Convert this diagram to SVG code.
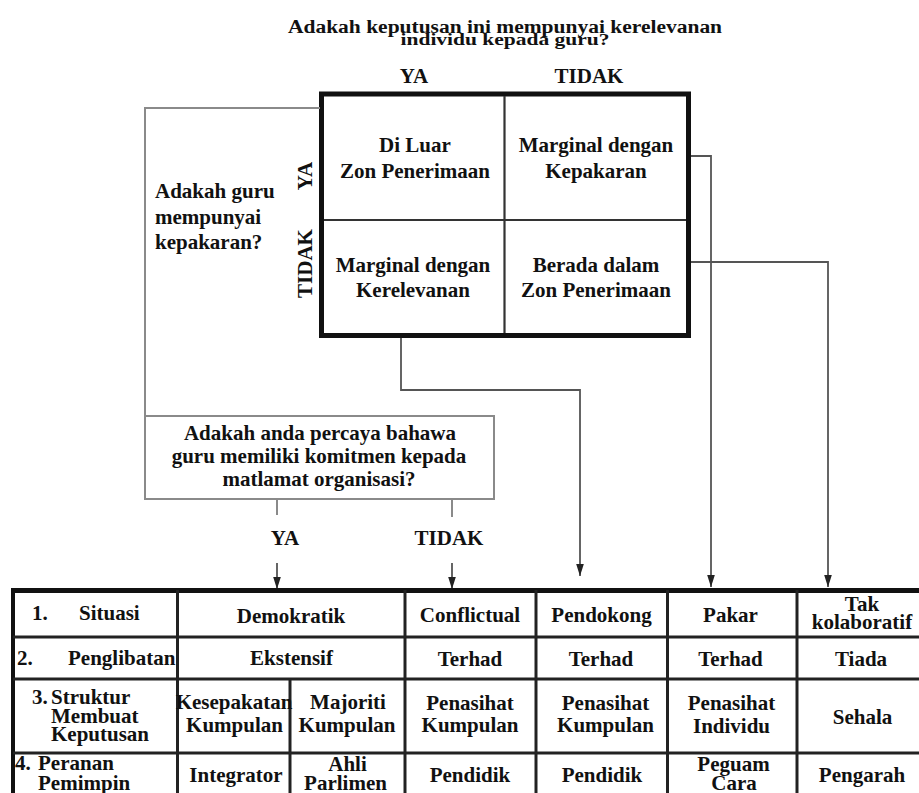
<svg xmlns="http://www.w3.org/2000/svg" width="919" height="793" viewBox="0 0 919 793">
<style>
text{font-family:"Liberation Serif","Times New Roman",serif;font-weight:bold;font-size:21px;fill:#111}
.c{text-anchor:middle}
.t{font-size:21.5px}
.conn{fill:none;stroke:#555;stroke-width:1.8}
.lt{fill:none;stroke:#8a8a8a;stroke-width:2}
.grid{stroke:#333;stroke-width:2.2}
.tl{stroke:#222;stroke-width:3}
</style>
<defs>
<marker id="arr" markerUnits="userSpaceOnUse" markerWidth="13" markerHeight="9" refX="12.5" refY="4" orient="auto">
<path d="M0,0 L12.5,4 L0,8 z" fill="#222"/>
</marker>
</defs>
<rect width="919" height="793" fill="#fff"/>

<g id="title">
<text class="c t" transform="translate(505,32.5) scale(1,0.92)">Adakah keputusan ini mempunyai kerelevanan</text>
<text class="c t" transform="translate(505,45) scale(1,0.78)">individu kepada guru?</text>
<text class="c" x="414" y="83">YA</text>
<text class="c" x="589" y="83">TIDAK</text>
</g>

<g id="q-expertise">
<text x="155" y="198">Adakah guru</text>
<text x="155" y="223.5">mempunyai</text>
<text x="155" y="249">kepakaran?</text>
<text class="c" transform="translate(312,176) rotate(-90)">YA</text>
<text class="c" transform="translate(312,263.5) rotate(-90)">TIDAK</text>
</g>

<g id="matrix">
<rect x="321.5" y="94" width="367" height="241.5" fill="none" stroke="#111" stroke-width="5"/>
<line class="grid" x1="504.5" y1="96" x2="504.5" y2="333"/>
<line class="grid" x1="324" y1="220" x2="686" y2="220"/>
<g id="cell-outside">
<text class="c" x="415" y="151.5">Di Luar</text>
<text class="c" x="415" y="178">Zon Penerimaan</text>
</g>
<g id="cell-expertise">
<text class="c" x="596" y="151.5">Marginal dengan</text>
<text class="c" x="596" y="178">Kepakaran</text>
</g>
<g id="cell-relevance">
<text class="c" x="413" y="271.5">Marginal dengan</text>
<text class="c" x="413" y="296.5">Kerelevanan</text>
</g>
<g id="cell-inside">
<text class="c" x="596" y="271.5">Berada dalam</text>
<text class="c" x="596" y="296.5">Zon Penerimaan</text>
</g>
</g>

<g id="q-commitment">
<rect class="lt" x="145" y="416" width="349" height="83" fill="#fff"/>
<text class="c" x="320" y="440">Adakah anda percaya bahawa</text>
<text class="c" x="319" y="463">guru memiliki komitmen kepada</text>
<text class="c" x="319" y="486">matlamat organisasi?</text>
<text class="c" x="285" y="545">YA</text>
<text class="c" x="449" y="545">TIDAK</text>
</g>

<g id="connectors">
<polyline class="lt" points="320,108 145,108 145,416"/>
<line class="lt" x1="277" y1="500" x2="277" y2="515"/>
<line class="lt" x1="452" y1="500" x2="452" y2="517"/>
<line class="conn" x1="277" y1="563" x2="277" y2="589" marker-end="url(#arr)"/>
<line class="conn" x1="452" y1="563" x2="452" y2="589" marker-end="url(#arr)"/>
<polyline class="conn" points="401,338 401,390 580,390 580,576" marker-end="url(#arr)"/>
<polyline class="conn" points="691,156 711,156 711,587" marker-end="url(#arr)"/>
<polyline class="conn" points="691,262 828,262 828,587" marker-end="url(#arr)"/>
</g>

<g id="table">
<line x1="11" y1="590.5" x2="919" y2="590.5" stroke="#111" stroke-width="5"/>
<line x1="13" y1="588" x2="13" y2="793" stroke="#111" stroke-width="4"/>
<line class="tl" x1="13" y1="637" x2="919" y2="637"/>
<line class="tl" x1="13" y1="679" x2="919" y2="679"/>
<line class="tl" x1="13" y1="753" x2="919" y2="753"/>
<line class="tl" x1="177.5" y1="590" x2="177.5" y2="793"/>
<line class="tl" x1="290" y1="679" x2="290" y2="793"/>
<line class="tl" x1="405" y1="590" x2="405" y2="793"/>
<line class="tl" x1="536" y1="590" x2="536" y2="793"/>
<line class="tl" x1="667.5" y1="590" x2="667.5" y2="793"/>
<line class="tl" x1="797" y1="590" x2="797" y2="793"/>

<g id="row-situasi">
<text x="32" y="620">1.</text>
<text x="79" y="620">Situasi</text>
<text class="c" x="291" y="623">Demokratik</text>
<text class="c" x="470" y="621.5">Conflictual</text>
<text class="c" x="601.5" y="621.5">Pendokong</text>
<text class="c" x="730.5" y="621.5">Pakar</text>
<text class="c" x="862" y="611">Tak</text>
<text class="c" x="862" y="629">kolaboratif</text>
</g>
<g id="row-penglibatan">
<text x="17" y="665">2.</text>
<text x="68" y="665">Penglibatan</text>
<text class="c" x="291.5" y="665">Ekstensif</text>
<text class="c" x="470" y="666">Terhad</text>
<text class="c" x="601" y="666">Terhad</text>
<text class="c" x="730.5" y="666">Terhad</text>
<text class="c" x="861" y="666">Tiada</text>
</g>
<g id="row-struktur">
<text x="32" y="704">3.</text>
<text x="51" y="704">Struktur</text>
<text x="51" y="722.5">Membuat</text>
<text x="51" y="741">Keputusan</text>
<text class="c" x="234" y="708.5" font-size="20">Kesepakatan</text>
<text class="c" x="234.5" y="731.5">Kumpulan</text>
<text class="c" x="348" y="708.5">Majoriti</text>
<text class="c" x="347" y="731.5">Kumpulan</text>
<text class="c" x="470" y="710">Penasihat</text>
<text class="c" x="470" y="731.5">Kumpulan</text>
<text class="c" x="605.5" y="710">Penasihat</text>
<text class="c" x="605.5" y="731.5">Kumpulan</text>
<text class="c" x="731.5" y="710">Penasihat</text>
<text class="c" x="731.5" y="732.5">Individu</text>
<text class="c" x="862.5" y="724">Sehala</text>
</g>
<g id="row-peranan">
<text x="15" y="770">4.</text>
<text x="38" y="770">Peranan</text>
<text x="38" y="789.5">Pemimpin</text>
<text class="c" x="236" y="781.5">Integrator</text>
<text class="c" x="347.5" y="771">Ahli</text>
<text class="c" x="345.5" y="789.5">Parlimen</text>
<text class="c" x="470" y="781.5">Pendidik</text>
<text class="c" x="602" y="781.5">Pendidik</text>
<text class="c" x="733.5" y="771">Peguam</text>
<text class="c" x="734" y="789.5">Cara</text>
<text class="c" x="862" y="781.5">Pengarah</text>
</g>
</g>
</svg>
